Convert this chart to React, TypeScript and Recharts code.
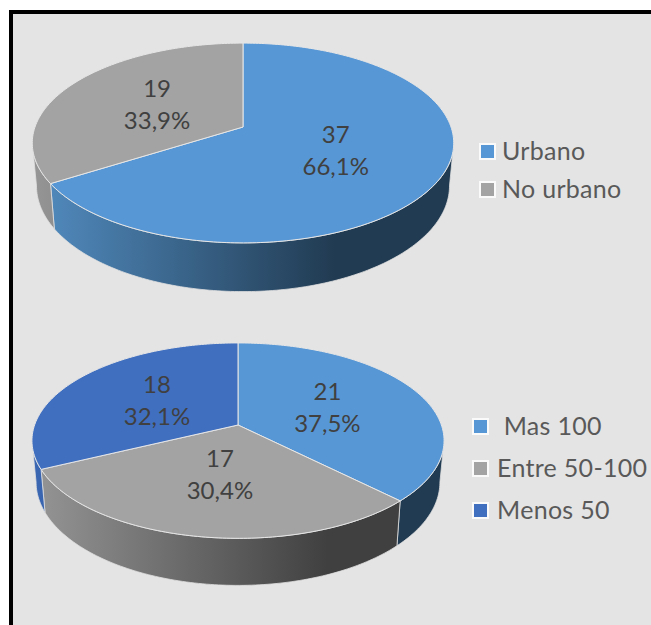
import { PieChart, Pie, Legend } from 'recharts';

const areaNames = ['Urbano', 'No urbano'];
const areaValues = [37, 19];
const areaColors = ['#5897d5', '#a3a3a3'];

const sizeNames = [' Mas 100', 'Entre 50-100', 'Menos 50'];
const sizeValues = [21, 17, 18];
const sizeColors = ['#5897d5', '#a3a3a3', '#406fc0'];

const wallLeft: any = { '#5897d5': '#528cc0', '#a3a3a3': '#959595', '#406fc0': '#3a66b2' };
const wallRight: any = { '#5897d5': '#213b52', '#a3a3a3': '#404040', '#406fc0': '#213b6a' };

const FONT = 'Lato, "Open Sans", sans-serif';
const TILT = 0.16; // perspective of the tilted disc
const SQUASH = 0.468; // vertical / horizontal radius
const RIM_X = 0.98; // base of the disc is a bit narrower
const RIM_Y = 1.058;
const RAD = Math.PI / 180;

// recharts angle -> point on the tilted top face, r is 0..1 of the radius
function project(cx: number, cy: number, R: number, angle: number, r = 1) {
  const u = Math.cos(angle * RAD) * r;
  const v = Math.sin(angle * RAD) * r;
  const w = 1 + TILT * v;
  return [cx + (R * u) / w, cy - (R * SQUASH * v) / w];
}

function rimPoint(cx: number, cy: number, R: number, depth: number, angle: number) {
  const [x, y] = project(cx, 0, R, angle);
  return [cx + (x - cx) * RIM_X, cy + depth + y * RIM_Y];
}

function steps(from: number, to: number) {
  const out: number[] = [];
  const n = Math.max(2, Math.ceil(Math.abs(from - to)));
  for (let i = 0; i <= n; i++) out.push(from + ((to - from) * i) / n);
  return out;
}

const pts = (list: number[][]) => list.map((p) => `${p[0].toFixed(2)},${p[1].toFixed(2)}`).join(' L');

function TiltedSector(props: any) {
  const { cx, cy, outerRadius: R, startAngle, endAngle, fill, depth, gid } = props;
  const top = steps(startAngle, endAngle).map((a) => project(cx, cy, R, a));
  const face = `M${cx},${cy} L${pts(top)} Z`;

  // only the front of the side wall can be seen
  const widest = Math.asin(TILT) / RAD;
  const from = Math.min(startAngle, -widest);
  const to = Math.max(endAngle, -180 + widest);
  let wall = null;
  if (from > to) {
    const range = steps(from, to);
    const upper = range.map((a) => project(cx, cy, R, a));
    const lower = range.map((a) => rimPoint(cx, cy, R, depth, a)).reverse();
    wall = `M${pts(upper)} L${pts(lower)} Z`;
  }
  const id = `wall-${gid}-${fill.slice(1)}`;
  return (
    <g>
      <defs>
        <linearGradient id={id} gradientUnits="userSpaceOnUse" x1={cx - R} x2={cx + R} y1={0} y2={0}>
          <stop offset="0" stopColor={wallLeft[fill]} />
          <stop offset="0.72" stopColor={wallRight[fill]} />
          <stop offset="1" stopColor={wallRight[fill]} />
        </linearGradient>
      </defs>
      {wall && <path d={wall} fill={`url(#${id})`} stroke="#dfdfdf" strokeWidth={0.8} />}
      <path d={face} fill={fill} stroke="#e6e6e6" strokeWidth={1} />
    </g>
  );
}

function SliceLabel(props: any) {
  const { cx, cy, outerRadius, midAngle, value, percent } = props;
  const [x, y] = project(cx, cy, outerRadius, midAngle, 0.49);
  const pct = `${(percent * 100).toFixed(1).replace('.', ',')}%`;
  return (
    <text textAnchor="middle" fontFamily={FONT} fontSize={24} fill="#404040">
      <tspan x={x} y={y - 8}>{value}</tspan>
      <tspan x={x} y={y + 24}>{pct}</tspan>
    </text>
  );
}

function KeyList({ payload, rowGap, textLeft }: any) {
  return (
    <div style={{ fontFamily: FONT, fontSize: 25, letterSpacing: 0.3, color: '#595959' }}>
      {(payload || []).map((item: any, i: number) => (
        <div key={i} style={{ position: 'absolute', top: i * rowGap, left: 0, height: 30, width: 190, display: 'flex', alignItems: 'center' }}>
          <span style={{ position: 'absolute', left: 0, top: 8, width: 13, height: 13, background: item.color, border: '2px solid #fafafa', boxSizing: 'content-box' }} />
          <span style={{ position: 'absolute', left: textLeft, whiteSpace: 'pre' }}>{item.value}</span>
        </div>
      ))}
    </div>
  );
}

function TiltedPie({ id, names, values, colors, top, height, cx, cy, R, depth, keyX, keyY, rowGap, textLeft }: any) {
  const rows = names.map((name: string, i: number) => ({ name, value: values[i], fill: colors[i] }));
  return (
    <div style={{ position: 'absolute', left: 0, top }}>
      <PieChart width={651} height={height} margin={{ top: 0, right: 0, bottom: 0, left: 0 }}>
        <Pie
          data={rows}
          dataKey="value"
          nameKey="name"
          cx={cx}
          cy={cy}
          outerRadius={R}
          startAngle={90}
          endAngle={-270}
          isAnimationActive={false}
          labelLine={false}
          label={SliceLabel}
          shape={(p: any) => <TiltedSector {...p} depth={depth} gid={id} />}
        />
        <Legend
          layout="vertical"
          align="right"
          verticalAlign="top"
          itemSorter={null}
          wrapperStyle={{ left: keyX, top: keyY, right: 'auto', width: 190 }}
          content={(p: any) => <KeyList payload={p.payload} rowGap={rowGap} textLeft={textLeft} />}
        />
      </PieChart>
    </div>
  );
}

export default function App() {
  return (
    <div style={{ position: 'absolute', left: 0, top: 0, width: 651, height: 625, background: '#fff', overflow: 'hidden' }}>
      <div style={{ position: 'absolute', left: 9, top: 10, width: 642, height: 615, background: '#e4e4e4', borderLeft: '4px solid #000', borderTop: '4px solid #000', boxSizing: 'border-box' }} />
      <TiltedPie id="a" names={areaNames} values={areaValues} colors={areaColors} top={0} height={312} cx={243} cy={127} R={208} depth={42} keyX={479} keyY={135} rowGap={38} textLeft={23} />
      <TiltedPie id="b" names={sizeNames} values={sizeValues} colors={sizeColors} top={312} height={313} cx={238} cy={113} R={203.4} depth={40.5} keyX={472} keyY={98} rowGap={42} textLeft={25} />
    </div>
  );
}
